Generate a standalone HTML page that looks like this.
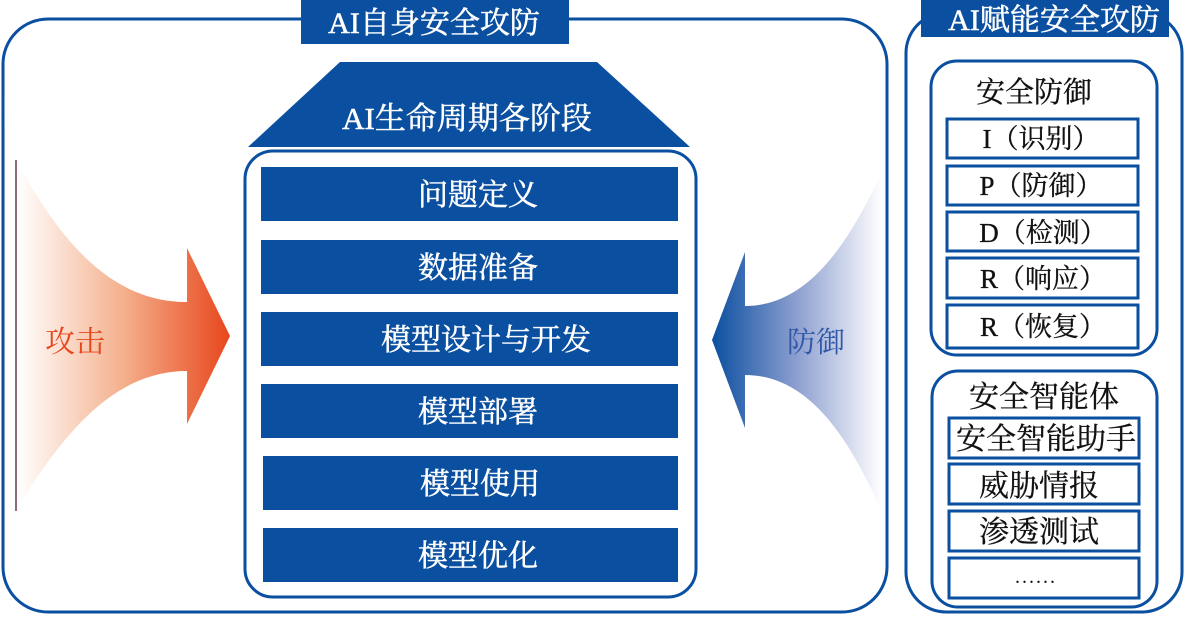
<!DOCTYPE html>
<html><head><meta charset="utf-8"><style>
html,body{margin:0;padding:0;background:#fff;}
svg{display:block;}
text{font-family:"Liberation Serif","Noto Serif CJK SC",serif;}
.w{stroke:#fff;stroke-width:0.5;}
.b{stroke:#111;stroke-width:0.3;}
</style></head><body>
<svg width="1185" height="617" viewBox="0 0 1185 617" xmlns="http://www.w3.org/2000/svg">
<defs>
<linearGradient id="ra" x1="0" x2="1" y1="0" y2="0">
<stop offset="0" stop-color="#fff"/><stop offset="0.5" stop-color="#f4b08c"/><stop offset="1" stop-color="#e8461c"/>
</linearGradient>
<linearGradient id="ba" x1="1" x2="0" y1="0" y2="0">
<stop offset="0" stop-color="#fff"/><stop offset="0.5" stop-color="#8e9fd0"/><stop offset="1" stop-color="#0a4fa0"/>
</linearGradient>
</defs>
<rect x="3" y="19" width="884" height="593" rx="45" fill="none" stroke="#0a4fa0" stroke-width="3"/>
<rect x="301" y="0" width="268" height="44" fill="#0a4fa0"/>
<text x="434" y="33" font-size="30" fill="#fff" class="w" text-anchor="middle">AI自身安全攻防</text>
<polygon points="340,62 597,62 690,147 248,147" fill="#0a4fa0"/>
<text x="467" y="129" font-size="31" fill="#fff" class="w" text-anchor="middle">AI生命周期各阶段</text>
<rect x="245" y="151" width="451" height="446" rx="28" fill="none" stroke="#0a4fa0" stroke-width="3"/>
<g fill="#0a4fa0">
<rect x="261" y="167" width="417" height="54"/>
<rect x="261" y="240" width="417" height="54"/>
<rect x="261" y="312" width="417" height="54"/>
<rect x="261" y="384" width="417" height="54"/>
<rect x="263" y="456" width="415" height="54"/>
<rect x="263" y="528" width="415" height="54"/>
</g>
<g font-size="30" fill="#fff" class="w" text-anchor="middle">
<text x="478" y="205">问题定义</text>
<text x="478" y="278">数据准备</text>
<text x="486" y="350">模型设计与开发</text>
<text x="478" y="422">模型部署</text>
<text x="480" y="494">模型使用</text>
<text x="478" y="566">模型优化</text>
</g>
<path d="M17,162 C60,240 110,302 187,302 L187,248 L230,336 L187,424 L187,371 C110,371 60,440 17,508 Z" fill="url(#ra)"/>
<line x1="16" y1="160" x2="16" y2="511" stroke="#6a3a4a" stroke-width="1.5"/>
<text x="75" y="352" font-size="30" fill="#e8461c" text-anchor="middle">攻击</text>
<path d="M882,172 C850,240 810,306 745,306 L745,252 L712,340 L745,428 L745,375 C810,375 850,440 882,512 Z" fill="url(#ba)"/>
<text x="816" y="352" font-size="29" fill="#2f58a8" text-anchor="middle">防御</text>
<rect x="906" y="13" width="276" height="599" rx="40" fill="none" stroke="#0a4fa0" stroke-width="3"/>
<rect x="921" y="0" width="248" height="37" fill="#0a4fa0"/>
<text x="1054" y="30" font-size="30" fill="#fff" class="w" text-anchor="middle">AI赋能安全攻防</text>
<rect x="931" y="61" width="226" height="294" rx="26" fill="none" stroke="#0a4fa0" stroke-width="3"/>
<text x="1034" y="102" font-size="29" fill="#111" class="b" text-anchor="middle">安全防御</text>
<g fill="none" stroke="#0a4fa0" stroke-width="3">
<rect x="947" y="119" width="191" height="39"/>
<rect x="947" y="166" width="191" height="39"/>
<rect x="947" y="212" width="191" height="39"/>
<rect x="947" y="258" width="191" height="40"/>
<rect x="947" y="305" width="191" height="43"/>
<rect x="949" y="418" width="190" height="40"/>
<rect x="949" y="464" width="190" height="40"/>
<rect x="949" y="511" width="190" height="40"/>
<rect x="949" y="558" width="190" height="40"/>
</g>
<g font-size="27" fill="#111" class="b" text-anchor="middle">
<text x="1041" y="148">I（识别）</text>
<text x="1041" y="195">P（防御）</text>
<text x="1043" y="242">D（检测）</text>
<text x="1043" y="288">R（响应）</text>
<text x="1043" y="336">R（恢复）</text>
</g>
<rect x="932" y="371" width="225" height="236" rx="26" fill="none" stroke="#0a4fa0" stroke-width="3"/>
<text x="1044" y="407" font-size="30" fill="#111" class="b" text-anchor="middle">安全智能体</text>
<g font-size="30" fill="#111" class="b" text-anchor="middle">
<text x="1046" y="449">安全智能助手</text>
<text x="1039" y="496">威胁情报</text>
<text x="1039" y="542">渗透测试</text>
</g>
<text x="1036" y="583" font-size="20" fill="#111" text-anchor="middle" letter-spacing="2">......</text>
</svg>
</body></html>
